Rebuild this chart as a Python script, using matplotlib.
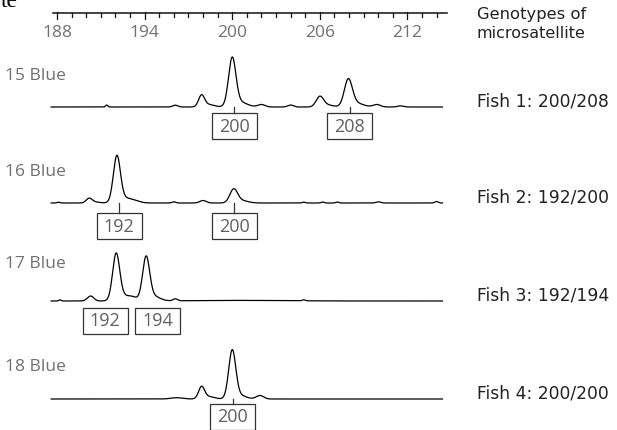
# Microsatellite electropherograms for four fish
import numpy as np
import matplotlib.pyplot as plt
from matplotlib.patches import Rectangle

plt.rcParams['font.family'] = ['Open Sans', 'DejaVu Sans']

# Fragment size scale (bp)
ruler_ticks = list(range(188, 215))
ruler_labels = [188, 194, 200, 206, 212]

trace_names = ["15 Blue", "16 Blue", "17 Blue", "18 Blue"]
fish_labels = ["Fish 1: 200/208", "Fish 2: 192/200", "Fish 3: 192/194", "Fish 4: 200/200"]
allele_calls = [["200", "208"], ["192", "200"], ["192", "194"], ["200"]]

# Peaks: (size in bp, height, width in bp)
peaks_15 = [(191.4, 2.0, 0.07), (196.1, 1.8, 0.18), (197.9, 11.0, 0.2), (198.35, 2.5, 0.4),
            (200.0, 47.0, 0.25), (200.5, 5.0, 0.5), (202.0, 2.5, 0.25), (204.0, 2.0, 0.2),
            (206.0, 10.0, 0.25), (206.5, 2.0, 0.4), (207.95, 26.0, 0.27), (208.45, 4.0, 0.5),
            (209.9, 2.5, 0.25), (211.5, 1.2, 0.2)]
peaks_16 = [(188.1, 0.8, 0.1), (190.2, 4.5, 0.2), (190.6, 1.0, 0.3), (192.1, 45.0, 0.24),
            (192.6, 4.5, 0.5), (193.3, 1.5, 0.4), (196.0, 1.2, 0.12), (198.0, 2.5, 0.22),
            (200.1, 13.0, 0.26), (200.6, 2.5, 0.45), (204.9, 0.9, 0.1), (206.2, 1.0, 0.1),
            (207.2, 1.0, 0.1), (210.0, 1.2, 0.15), (214.0, 1.5, 0.12)]
peaks_17 = [(188.2, 1.2, 0.08), (190.3, 5.0, 0.22), (192.05, 45.0, 0.24), (192.5, 5.0, 0.45),
            (193.2, 3.0, 0.3), (194.1, 42.0, 0.24), (194.55, 5.0, 0.45), (196.1, 2.0, 0.15),
            (200.5, 0.6, 3.0), (204.9, 1.0, 0.1)]
peaks_18 = [(196.2, 1.3, 0.4), (197.9, 11.5, 0.2), (198.35, 2.5, 0.4), (200.0, 47.0, 0.24),
            (200.45, 4.0, 0.45), (201.9, 3.5, 0.25)]
all_peaks = [peaks_15, peaks_16, peaks_17, peaks_18]

# layout (pixel rows, bp offsets)
baselines = [107, 203, 301, 399]
label_rows = [80, 176, 268, 371]
box_tops = [113, 213, 308, 404]
box_shift = [[0.15, 0.05], [0.25, 0.15], [-0.7, 0.9], [0.05]]
box_tick = [True, True, False, True]

PX = 14.6          # pixels per bp
X0 = 188 - 57 / PX  # bp at left edge of figure


def px(x):
    return X0 + x / PX


fig = plt.figure(figsize=(6.17, 4.30), dpi=100)
ax = fig.add_axes([0, 0, 1, 1])
ax.set_xlim(X0, X0 + 617 / PX)
ax.set_ylim(430, 0)
ax.axis('off')

# ruler
ax.plot([187.7, 214.7], [13, 13], color='#111111', lw=1.1)
for t in ruler_ticks:
    if t in ruler_labels:
        ax.plot([t, t], [11.5, 18.5], color='#111111', lw=0.9)
    else:
        ax.plot([t, t], [13, 17], color='#111111', lw=0.9)
for t in ruler_labels:
    ax.text(t, 37, str(t), ha='center', va='baseline', fontsize=12.5, color='#707070')

ax.text(px(1), 7, "te", fontsize=17, family=['Liberation Serif'], va='baseline', color='black')
right_font = ['DejaVu Sans']
ax.text(px(477), 19, "Genotypes of", fontsize=11.8, va='baseline', color='#222222',
        family=right_font)
ax.text(px(477), 38, "microsatellite", fontsize=11.5, va='baseline', color='#222222',
        family=right_font)

size = np.arange(187.6, 214.4, 0.01)
for i, peaks in enumerate(all_peaks):
    signal = np.zeros_like(size)
    for pos, h, w in peaks:
        signal += h * np.exp(-0.5 * ((size - pos) / w) ** 2)
    ax.plot(size, baselines[i] - signal, color='black', lw=0.9)

    ax.text(px(5), label_rows[i], trace_names[i], fontsize=12.5, va='baseline', color='#707070')
    ax.text(px(477), baselines[i], fish_labels[i], fontsize=12.3, va='baseline', color='#222222',
            family=right_font)

    for call, shift in zip(allele_calls[i], box_shift[i]):
        cx = float(call) + shift
        w = 45 / PX
        ax.add_patch(Rectangle((cx - w / 2, box_tops[i]), w, 26, fill=False,
                               edgecolor='#333333', lw=0.9))
        if box_tick[i]:
            ax.plot([cx, cx], [baselines[i], box_tops[i]], color='#333333', lw=0.9)
        ax.text(cx, box_tops[i] + 13.5, call, ha='center', va='center',
                fontsize=13, color='#606060')

fig.savefig('out.png', dpi=100)
